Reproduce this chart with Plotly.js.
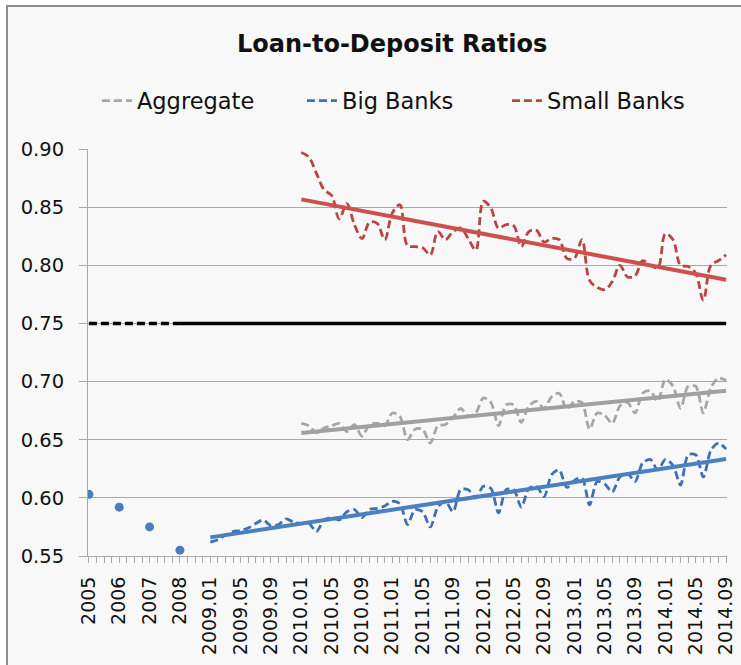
<!DOCTYPE html>
<html><head><meta charset="utf-8">
<script src="https://cdn.plot.ly/plotly-3.0.1.min.js"></script>
<style>
html,body{margin:0;padding:0;background:#fff;overflow:hidden;}
#frame{position:absolute;left:6px;top:5px;width:735px;height:660px;border-left:2px solid #8c8c8c;border-top:2px solid #8c8c8c;background:#f8f8f8;}
#chart{width:733px;height:658px;}
</style></head><body><div id="frame"><div id="chart"></div></div>
<script>
// ---- data ----
const annualLabels = ['2005','2006','2007','2008'];
const annualBigBanks = [0.603, 0.592, 0.575, 0.555];

const monthLabels = [];
for (let y = 2009; y <= 2014; y++) {
  for (let m = 1; m <= 12; m++) {
    if (y === 2014 && m > 9) break;
    monthLabels.push(y + '.' + (m < 10 ? '0' + m : m));
  }
}

// Big banks: 2009.01 - 2014.09
const bigBanks = [
  0.562,0.564,0.568,0.571,0.572,0.574,0.578,0.581,0.576,0.577,0.582,0.579,
  0.578,0.578,0.571,0.581,0.583,0.581,0.588,0.590,0.583,0.590,0.591,0.593,
  0.597,0.595,0.577,0.590,0.588,0.575,0.592,0.597,0.588,0.607,0.607,0.600,
  0.610,0.608,0.587,0.607,0.607,0.592,0.608,0.610,0.601,0.620,0.624,0.609,
  0.615,0.617,0.594,0.614,0.612,0.605,0.618,0.621,0.614,0.630,0.633,0.624,
  0.633,0.628,0.611,0.637,0.637,0.618,0.641,0.647,0.642
];
// Aggregate: 2010.01 - 2014.09
const aggregate = [
  0.664,0.662,0.656,0.660,0.662,0.664,0.657,0.663,0.653,0.663,0.664,0.662,
  0.673,0.670,0.650,0.659,0.659,0.647,0.662,0.663,0.669,0.677,0.670,0.673,
  0.686,0.682,0.662,0.680,0.680,0.665,0.679,0.683,0.677,0.687,0.690,0.676,
  0.683,0.682,0.659,0.673,0.671,0.664,0.679,0.682,0.673,0.690,0.692,0.683,
  0.702,0.696,0.677,0.696,0.696,0.673,0.695,0.703,0.701
];
// Small banks: 2010.01 - 2014.09
const smallBanks = [
  0.897,0.893,0.879,0.865,0.860,0.840,0.853,0.835,0.823,0.837,0.836,0.822,
  0.845,0.852,0.817,0.816,0.815,0.809,0.829,0.822,0.829,0.832,0.823,0.813,
  0.855,0.849,0.832,0.835,0.834,0.816,0.829,0.830,0.820,0.823,0.822,0.806,
  0.806,0.822,0.787,0.781,0.779,0.786,0.800,0.790,0.791,0.804,0.800,0.798,
  0.827,0.822,0.800,0.799,0.793,0.770,0.800,0.804,0.809
];
const benchmark = 0.75;
const benchmarkDashedUntil = '2008';
const seriesNames = ['Aggregate','Big Banks','Small Banks'];

// ---- category axis (each annual point occupies 4 slots) ----
const categories = [];
annualLabels.forEach(l => { categories.push(l, '', '', ''); });
monthLabels.forEach(l => categories.push(l));
const idxOf = lbl => categories.indexOf(lbl);
const annualX = annualLabels.map(idxOf);
const bigX = bigBanks.map((_, i) => idxOf(monthLabels[0]) + i);
const start2010 = idxOf('2010.01');
const aggX = aggregate.map((_, i) => start2010 + i);
const smallX = smallBanks.map((_, i) => start2010 + i);

function linfit(xs, ys) {
  const n = xs.length;
  const mx = xs.reduce((a, b) => a + b, 0) / n;
  const my = ys.reduce((a, b) => a + b, 0) / n;
  let sxy = 0, sxx = 0;
  for (let i = 0; i < n; i++) { sxy += (xs[i] - mx) * (ys[i] - my); sxx += (xs[i] - mx) ** 2; }
  const b = sxy / sxx, a = my - b * mx;
  const x = [xs[0], xs[n - 1]];
  return { x: x, y: x.map(v => a + b * v) };
}

const C = {
  grayD: '#a6a6a6', grayT: '#a0a0a0',
  blueD: '#3f6fb5', blueT: '#4a7fc1',
  redD: '#b94542',  redT: '#cc514c'
};
const dashPat = '8px,4px';

const tAgg = linfit(aggX, aggregate);
const tBig = linfit(bigX, bigBanks);
const tSmall = linfit(smallX, smallBanks);
const lastIdx = categories.length - 1;
const cut = idxOf(benchmarkDashedUntil);

const traces = [
  { x: aggX, y: aggregate, name: seriesNames[0], mode: 'lines',
    line: { color: C.grayD, width: 2.8, dash: dashPat, shape: 'spline', smoothing: 0.8 } },
  { x: bigX, y: bigBanks, name: seriesNames[1], mode: 'lines',
    line: { color: C.blueD, width: 2.8, dash: dashPat, shape: 'spline', smoothing: 0.8 } },
  { x: smallX, y: smallBanks, name: seriesNames[2], mode: 'lines',
    line: { color: C.redD, width: 2.8, dash: dashPat, shape: 'spline', smoothing: 1 } },
  { x: tAgg.x, y: tAgg.y, mode: 'lines', showlegend: false, hoverinfo: 'skip',
    line: { color: C.grayT, width: 4 } },
  { x: tBig.x, y: tBig.y, mode: 'lines', showlegend: false, hoverinfo: 'skip',
    line: { color: C.blueT, width: 4 } },
  { x: tSmall.x, y: tSmall.y, mode: 'lines', showlegend: false, hoverinfo: 'skip',
    line: { color: C.redT, width: 4 } },
  { x: [0, cut], y: [benchmark, benchmark], mode: 'lines', showlegend: false,
    line: { color: '#000', width: 3.5, dash: '8px,4px' } },
  { x: [cut, lastIdx], y: [benchmark, benchmark], mode: 'lines', showlegend: false,
    line: { color: '#000', width: 3.5 } },
  { x: annualX, y: annualBigBanks, mode: 'markers', showlegend: false,
    marker: { color: '#4a7ebb', size: 9 } }
];

const tickvals = categories.map((_, i) => i);
const ticktext = categories.map((c, i) => (i % 4 === 0 ? c : ''));
const FONT = 'DejaVu Sans, Verdana, sans-serif';

const layout = {
  width: 733, height: 658,
  margin: { l: 80, r: 14, t: 142, b: 109 },
  paper_bgcolor: '#f8f8f8', plot_bgcolor: '#f8f8f8',
  font: { family: FONT, color: '#111' },
  title: { text: 'Loan-to-Deposit Ratios', font: { family: FONT, size: 24, weight: 'bold', color: '#111' },
           xref: 'container', yref: 'container', x: 0.524, xanchor: 'center', y: 0.944, yanchor: 'middle' },
  showlegend: true,
  legend: { orientation: 'h', x: 0.014, xanchor: 'left', y: 1.118, yanchor: 'middle',
            entrywidth: 160, entrywidthmode: 'pixels',
            font: { family: FONT, size: 22.5, color: '#111' }, bgcolor: 'rgba(0,0,0,0)', traceorder: 'normal' },
  xaxis: { range: [-0.12, lastIdx + 0.12], tickmode: 'array', tickvals: tickvals, ticktext: ticktext,
           tickangle: -90, ticks: 'outside', ticklen: 6, tickcolor: '#a8a8a8', tickwidth: 1,
           showline: true, linecolor: '#a8a8a8', linewidth: 1, showgrid: false, zeroline: false,
           tickfont: { family: FONT, size: 19, color: '#111' }, ticklabelstandoff: 6, fixedrange: true },
  yaxis: { range: [0.55, 0.90], tickmode: 'array', tickvals: [0.55,0.60,0.65,0.70,0.75,0.80,0.85,0.90],
           tickformat: '.2f', ticks: 'outside', ticklen: 8, tickcolor: '#a8a8a8',
           showline: true, linecolor: '#a8a8a8', linewidth: 1, showgrid: true, gridcolor: '#a8a8a8', gridwidth: 1,
           zeroline: false, tickfont: { family: FONT, size: 19.5, color: '#111' }, ticklabelstandoff: 11, fixedrange: true }
};

Plotly.newPlot('chart', traces, layout, { displayModeBar: false, staticPlot: true });
</script></body></html>
